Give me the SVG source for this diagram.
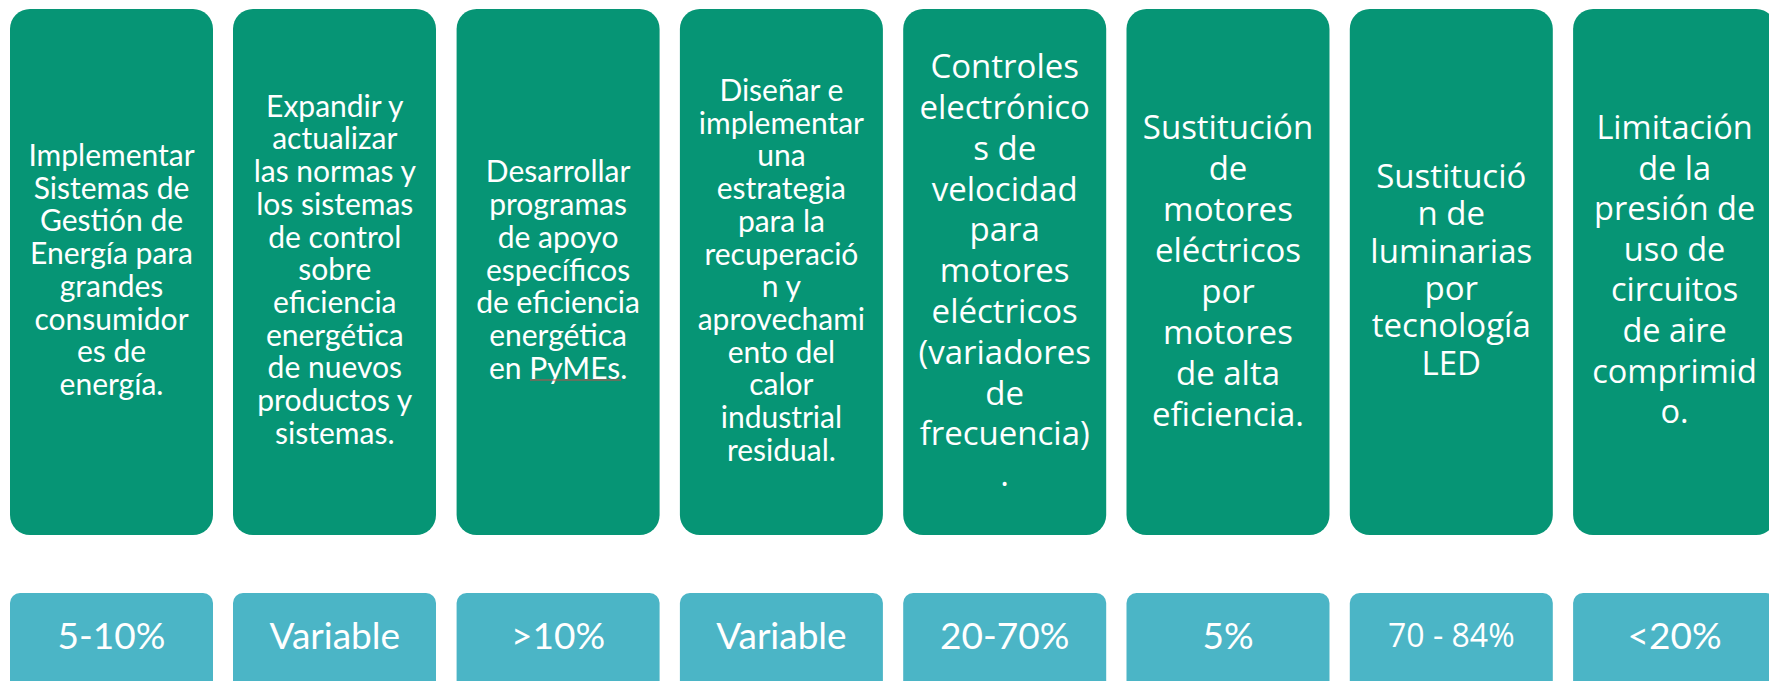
<svg xmlns="http://www.w3.org/2000/svg" width="1769" height="681" viewBox="0 0 1769 681">
<style>
.top{fill:#069575}
.bot{fill:#4bb5c6}
.t{fill:#fff;font-family:Lato,"Liberation Sans",sans-serif;font-size:30px;text-anchor:middle}
.o{fill:#fff;font-family:"Open Sans","Liberation Sans",sans-serif;font-size:33px;text-anchor:middle}
.v{fill:#fff;font-family:Lato,"Liberation Sans",sans-serif;font-size:37px;text-anchor:middle}
.vo{fill:#fff;font-family:"Open Sans","Liberation Sans",sans-serif;font-size:32px;text-anchor:middle}
</style>
<rect width="1769" height="681" fill="#fff"/>
<g id="node1">
<rect class="top" x="10" y="9" width="203" height="526" rx="20"/>
<text class="t"><tspan x="111.5" y="166">Implementar</tspan><tspan x="111.5" y="198.7">Sistemas de</tspan><tspan x="111.5" y="231.4">Gestión de</tspan><tspan x="111.5" y="264.1">Energía para</tspan><tspan x="111.5" y="296.8">grandes</tspan><tspan x="111.5" y="329.5">consumidor</tspan><tspan x="111.5" y="362.2">es de</tspan><tspan x="111.5" y="394.9">energía.</tspan></text>
</g>
<g id="node2">
<rect class="top" x="233" y="9" width="203" height="526" rx="20"/>
<text class="t"><tspan x="334.8" y="116.7">Expandir y</tspan><tspan x="334.8" y="149.4">actualizar</tspan><tspan x="334.8" y="182.1">las normas y</tspan><tspan x="334.8" y="214.8">los sistemas</tspan><tspan x="334.8" y="247.5">de control</tspan><tspan x="334.8" y="280.2">sobre</tspan><tspan x="334.8" y="312.9">eficiencia</tspan><tspan x="334.8" y="345.6">energética</tspan><tspan x="334.8" y="378.3">de nuevos</tspan><tspan x="334.8" y="411">productos y</tspan><tspan x="334.8" y="443.7">sistemas.</tspan></text>
</g>
<g id="node3">
<rect class="top" x="456.6" y="9" width="203" height="526" rx="20"/>
<text class="t"><tspan x="558.1" y="182.4">Desarrollar</tspan><tspan x="558.1" y="215.1">programas</tspan><tspan x="558.1" y="247.8">de apoyo</tspan><tspan x="558.1" y="280.5">específicos</tspan><tspan x="558.1" y="313.2">de eficiencia</tspan><tspan x="558.1" y="345.9">energética</tspan><tspan x="558.1" y="378.6">en PyMEs.</tspan></text>
<line x1="530" y1="380" x2="621" y2="380" stroke="#c0504d" stroke-width="1"/>
</g>
<g id="node4">
<rect class="top" x="679.9" y="9" width="203" height="526" rx="20"/>
<text class="t"><tspan x="781.4" y="101">Diseñar e</tspan><tspan x="781.4" y="133.7">implementar</tspan><tspan x="781.4" y="166.4">una</tspan><tspan x="781.4" y="199.1">estrategia</tspan><tspan x="781.4" y="231.8">para la</tspan><tspan x="781.4" y="264.5">recuperació</tspan><tspan x="781.4" y="297.2">n y</tspan><tspan x="781.4" y="329.9">aprovechami</tspan><tspan x="781.4" y="362.6">ento del</tspan><tspan x="781.4" y="395.3">calor</tspan><tspan x="781.4" y="428">industrial</tspan><tspan x="781.4" y="460.7">residual.</tspan></text>
</g>
<g id="node5">
<rect class="top" x="903.2" y="9" width="203" height="526" rx="20"/>
<text class="o"><tspan x="1004.7" y="78.2">Controles</tspan><tspan x="1004.7" y="119">electrónico</tspan><tspan x="1004.7" y="159.8">s de</tspan><tspan x="1004.7" y="200.6">velocidad</tspan><tspan x="1004.7" y="241.4">para</tspan><tspan x="1004.7" y="282.2">motores</tspan><tspan x="1004.7" y="323">eléctricos</tspan><tspan x="1004.7" y="363.8">(variadores</tspan><tspan x="1004.7" y="404.6">de</tspan><tspan x="1004.7" y="445.4">frecuencia)</tspan><tspan x="1004.7" y="486.2">.</tspan></text>
</g>
<g id="node6">
<rect class="top" x="1126.5" y="9" width="203" height="526" rx="20"/>
<text class="o"><tspan x="1228" y="139">Sustitución</tspan><tspan x="1228" y="180">de</tspan><tspan x="1228" y="221">motores</tspan><tspan x="1228" y="262">eléctricos</tspan><tspan x="1228" y="303">por</tspan><tspan x="1228" y="344">motores</tspan><tspan x="1228" y="385">de alta</tspan><tspan x="1228" y="426">eficiencia.</tspan></text>
</g>
<g id="node7">
<rect class="top" x="1349.8" y="9" width="203" height="526" rx="20"/>
<text class="o"><tspan x="1451.3" y="187.7">Sustitució</tspan><tspan x="1451.3" y="225.1">n de</tspan><tspan x="1451.3" y="262.5">luminarias</tspan><tspan x="1451.3" y="299.9">por</tspan><tspan x="1451.3" y="337.3">tecnología</tspan><tspan x="1451.3" y="374.7">LED</tspan></text>
</g>
<g id="node8">
<rect class="top" x="1573.1" y="9" width="203" height="526" rx="20"/>
<text class="o" style="font-size:32.5px"><tspan x="1674.6" y="139">Limitación</tspan><tspan x="1674.6" y="179.6">de la</tspan><tspan x="1674.6" y="220.2">presión de</tspan><tspan x="1674.6" y="260.8">uso de</tspan><tspan x="1674.6" y="301.4">circuitos</tspan><tspan x="1674.6" y="342">de aire</tspan><tspan x="1674.6" y="382.6">comprimid</tspan><tspan x="1674.6" y="423.2">o.</tspan></text>
</g>
<g id="val1"><rect class="bot" x="10" y="593" width="203" height="110" rx="10"/><text class="v" x="111.5" y="649">5-10%</text></g>
<g id="val2"><rect class="bot" x="233" y="593" width="203" height="110" rx="10"/><text class="v" x="334.8" y="649">Variable</text></g>
<g id="val3"><rect class="bot" x="456.6" y="593" width="203" height="110" rx="10"/><text class="v" x="558.1" y="649">&gt;10%</text></g>
<g id="val4"><rect class="bot" x="679.9" y="593" width="203" height="110" rx="10"/><text class="v" x="781.4" y="649">Variable</text></g>
<g id="val5"><rect class="bot" x="903.2" y="593" width="203" height="110" rx="10"/><text class="v" x="1004.7" y="649">20-70%</text></g>
<g id="val6"><rect class="bot" x="1126.5" y="593" width="203" height="110" rx="10"/><text class="v" x="1228" y="649">5%</text></g>
<g id="val7"><rect class="bot" x="1349.8" y="593" width="203" height="110" rx="10"/><text class="vo" x="1451.3" y="647">70 - 84%</text></g>
<g id="val8"><rect class="bot" x="1573.1" y="593" width="203" height="110" rx="10"/><text class="v" x="1674.6" y="649">&lt;20%</text></g>
<g id="connectors"/>
</svg>
